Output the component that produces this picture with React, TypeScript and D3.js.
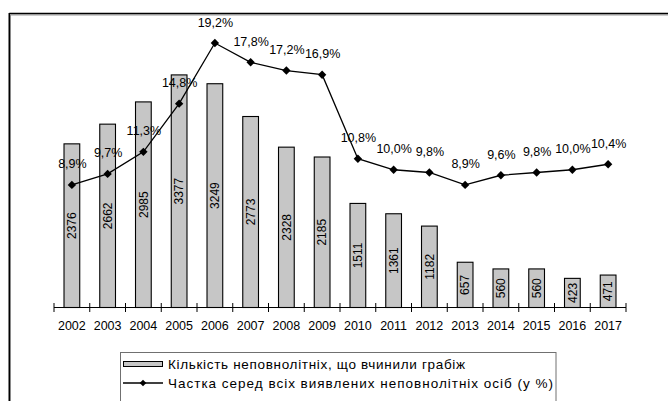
import React from "react";
import * as d3 from "d3";

const years = ["2002","2003","2004","2005","2006","2007","2008","2009","2010","2011","2012","2013","2014","2015","2016","2017"];
const counts = [2376, 2662, 2985, 3377, 3249, 2773, 2328, 2185, 1511, 1361, 1182, 657, 560, 560, 423, 471];
const shares = [8.9, 9.7, 11.3, 14.8, 19.2, 17.8, 17.2, 16.9, 10.8, 10.0, 9.8, 8.9, 9.6, 9.8, 10.0, 10.4];
const legendBar = "Кількість неповнолітніх, що вчинили грабіж";
const legendLine = "Частка серед всіх виявлених неповнолітніх осіб (у %)";

const W = 668, H = 401;
const FONT = "Liberation Sans, Arial, sans-serif";

export default function App() {
  const x = d3.scaleBand<string>().domain(years).range([54, 626]).paddingInner(0.56).paddingOuter(0.28);
  const yL = d3.scaleLinear().domain([0, 4000]).range([307.5, 32]);
  const yR = d3.scaleLinear().domain([0, 20]).range([307.5, 32]);
  const cx = (i: number) => (x(years[i]) as number) + x.bandwidth() / 2;
  const line = d3.line<number>().x((_, i) => cx(i)).y((d) => yR(d));
  const diamond = (px: number, py: number, r: number) =>
    `M${px},${py - r}L${px + r},${py}L${px},${py + r}L${px - r},${py}Z`;
  const tickXs = d3.range(years.length + 1).map((i) => 54 + i * (572 / years.length));
  const fmt = (v: number) => v.toFixed(1).replace(".", ",") + "%";

  return (
    <svg width={W} height={H} style={{ position: "absolute", left: 0, top: 0, background: "#fff" }} fontFamily={FONT}>
      <rect x={0} y={0} width={W} height={H} fill="#fff" />
      {/* frame */}
      <line x1={10.5} y1={15} x2={W} y2={15} stroke="#9a9a9a" strokeWidth={1} />
      <line x1={10.5} y1={15} x2={10.5} y2={H} stroke="#9a9a9a" strokeWidth={1} />
      <line x1={9.3} y1={13.5} x2={W} y2={13.5} stroke="#000" strokeWidth={1.6} />
      <line x1={9.3} y1={13} x2={9.3} y2={H} stroke="#000" strokeWidth={1.6} />

      {/* bars */}
      {counts.map((c, i) => (
        <rect key={"b" + i} x={x(years[i])} y={yL(c)} width={x.bandwidth()} height={yL(0) - yL(c)}
          fill="#c6c6c6" stroke="#000" strokeWidth={1.1} />
      ))}
      {counts.map((c, i) => {
        const my = (yL(c) + yL(0)) / 2;
        return (
          <text key={"bl" + i} transform={`translate(${cx(i) + 4.3},${my}) rotate(-90)`} textAnchor="middle"
            fontSize={12} fill="#000">{c}</text>
        );
      })}

      {/* axis */}
      <line x1={54} y1={307.5} x2={626} y2={307.5} stroke="#000" strokeWidth={1.2} />
      {tickXs.map((t, i) => (
        <line key={"t" + i} x1={t} y1={303} x2={t} y2={312} stroke="#000" strokeWidth={1} />
      ))}
      {years.map((yv, i) => (
        <text key={"y" + i} x={cx(i)} y={329.5} textAnchor="middle" fontSize={12.5} fill="#000">{yv}</text>
      ))}

      {/* line */}
      <path d={line(shares) || ""} fill="none" stroke="#000" strokeWidth={1.3} />
      {shares.map((s, i) => (
        <path key={"m" + i} d={diamond(cx(i), yR(s), 4.2)} fill="#000" />
      ))}
      {shares.map((s, i) => (
        <text key={"pl" + i} x={cx(i) + 0.5} y={yR(s) - 16.5} textAnchor="middle" fontSize={12.5} fill="#000">{fmt(s)}</text>
      ))}

      {/* legend */}
      <rect x={120.5} y={352.5} width={435.5} height={60} fill="#fff" stroke="#707070" strokeWidth={1} />
      <rect x={123.5} y={361.5} width={39} height={5} fill="#c6c6c6" stroke="#000" strokeWidth={1} />
      <text x={168} y={368.5} fontSize={13.5} fill="#000" textLength={297} lengthAdjust="spacing">{legendBar}</text>
      <line x1={123} y1={383} x2={163} y2={383} stroke="#000" strokeWidth={1.3} />
      <path d={diamond(143, 383, 3.3)} fill="#000" />
      <text x={168} y={387.5} fontSize={13.5} fill="#000" textLength={385} lengthAdjust="spacing">{legendLine}</text>
    </svg>
  );
}
